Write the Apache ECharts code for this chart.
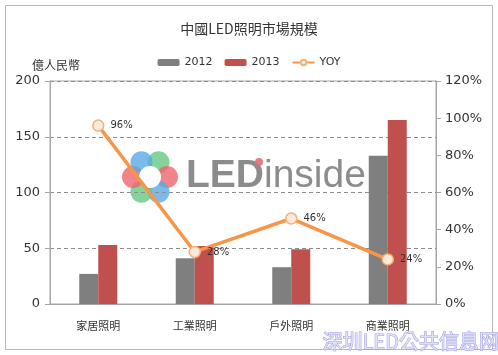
<!DOCTYPE html>
<html><head><meta charset="utf-8">
<script src="https://cdn.jsdelivr.net/npm/echarts@6/dist/echarts.min.js"></script>
<style>html,body{margin:0;padding:0;background:#fff}#c{width:498px;height:355px}</style>
</head><body><div id="c"></div>
<script>
const categories = ['家居照明', '工業照明', '戶外照明', '商業照明'];
const values2012 = [27, 41, 33, 133];
const values2013 = [53, 52, 49, 165];
const yoy = [96, 28, 46, 24];
const leftTicks = [0, 50, 100, 150, 200];
const rightTicks = [0, 20, 40, 60, 80, 100, 120];

const cjk = '"Noto Sans CJK TC", "Noto Sans CJK SC", sans-serif';
const num = '"DejaVu Sans", Verdana, sans-serif';
const logoColors = ['rgba(100,200,130,0.8)', 'rgba(240,100,110,0.8)', 'rgba(90,170,230,0.8)', 'rgba(100,200,130,0.8)', 'rgba(240,100,110,0.8)', 'rgba(90,170,230,0.8)'];
const logoChildren = logoColors.map(function (c, i) {
  const a = -Math.PI / 3 + i * Math.PI / 3;
  return { type: 'circle', shape: { cx: 150 + 17 * Math.cos(a), cy: 177 + 17 * Math.sin(a), r: 11 }, style: { fill: c } };
});
logoChildren.push({ type: 'circle', shape: { cx: 150, cy: 177, r: 11 }, style: { fill: '#fff' } });

const chart = echarts.init(document.getElementById('c'));
chart.setOption({
  animation: false,
  title: { text: '中國LED照明市場規模', left: 'center', top: 17,
    textStyle: { fontFamily: cjk, fontSize: 14, fontWeight: 'normal', color: '#333' } },
  legend: {
    top: 52, left: 'center', itemGap: 12, itemWidth: 22, itemHeight: 7,
    textStyle: { fontFamily: num, fontSize: 11, color: '#333' },
    data: [{ name: '2012' }, { name: '2013' }, { name: 'YOY' }]
  },
  grid: { left: 50, right: 62, top: 81, bottom: 51, show: true, borderColor: '#a6a6a6', borderWidth: 1 },
  xAxis: {
    type: 'category', data: categories,
    axisLine: { lineStyle: { color: '#a6a6a6' } }, axisTick: { show: false },
    axisLabel: { fontFamily: cjk, fontSize: 11, color: '#333', margin: 16 }
  },
  yAxis: [{
    type: 'value', min: leftTicks[0], max: leftTicks[leftTicks.length - 1], interval: 50,
    name: '億人民幣', nameLocation: 'end', nameGap: 10,
    nameTextStyle: { fontFamily: cjk, fontSize: 12, color: '#333', align: 'center', padding: [0, 0, 0, 12] },
    axisLine: { show: true, lineStyle: { color: '#a6a6a6' } },
    axisTick: { show: true, length: 5, lineStyle: { color: '#a6a6a6' } },
    axisLabel: { fontFamily: num, fontSize: 13, color: '#333', margin: 10 },
    splitLine: { show: true, lineStyle: { type: [4, 3], color: '#8c8c8c' } }
  }, {
    type: 'value', min: rightTicks[0], max: rightTicks[rightTicks.length - 1], interval: 20,
    axisLine: { show: true, lineStyle: { color: '#a6a6a6' } },
    axisTick: { show: true, length: 5, lineStyle: { color: '#a6a6a6' } },
    axisLabel: { fontFamily: num, fontSize: 13, color: '#333', margin: 9, formatter: '{value}%' },
    splitLine: { show: false }
  }],
  graphic: [
    { type: 'rect', shape: { x: 5.5, y: 5.5, width: 487, height: 344 }, style: { fill: 'none', stroke: '#b8b8b8', lineWidth: 1 }, z: -10 },
    { type: 'group', z: -5, silent: true, children: logoChildren },
    { type: 'text', left: 186, top: 157, z: -5, silent: true,
      style: { text: '{a|LED}{b|inside}', rich: {
        a: { fontFamily: 'Arial, "Liberation Sans", sans-serif', fontSize: 39, fontWeight: 'bold', fill: 'rgba(120,120,120,0.85)' },
        b: { fontFamily: 'Arial, "Liberation Sans", sans-serif', fontSize: 39, fill: 'rgba(120,120,120,0.85)' } } } },
    { type: 'circle', shape: { cx: 259, cy: 162, r: 4 }, style: { fill: 'rgba(230,110,120,0.9)' }, z: -4 },
    { type: 'text', left: 322, top: 331, z: 20, silent: true,
      style: { text: '深圳LED公共信息网', fontFamily: cjk, fontSize: 20, fill: 'rgba(225,225,250,0.9)', stroke: 'rgba(150,150,220,0.9)', lineWidth: 1 } }
  ],
  series: [
    { name: '2012', type: 'bar', data: values2012, barWidth: 19, barGap: '0%', itemStyle: { color: '#7f7f7f' } },
    { name: '2013', type: 'bar', data: values2013, barWidth: 19, barGap: '0%', itemStyle: { color: '#c0504d' } },
    { name: 'YOY', type: 'line', yAxisIndex: 1, data: yoy, symbol: 'circle', symbolSize: 11,
      lineStyle: { color: '#f79646', width: 3.5 },
      itemStyle: { color: '#fde9d9', borderColor: '#f2b27a', borderWidth: 1.5 },
      label: { show: true, position: 'right', distance: 6, formatter: '{c}%', fontFamily: num, fontSize: 10, color: '#333' },
      z: 5 }
  ]
});
</script></body></html>
